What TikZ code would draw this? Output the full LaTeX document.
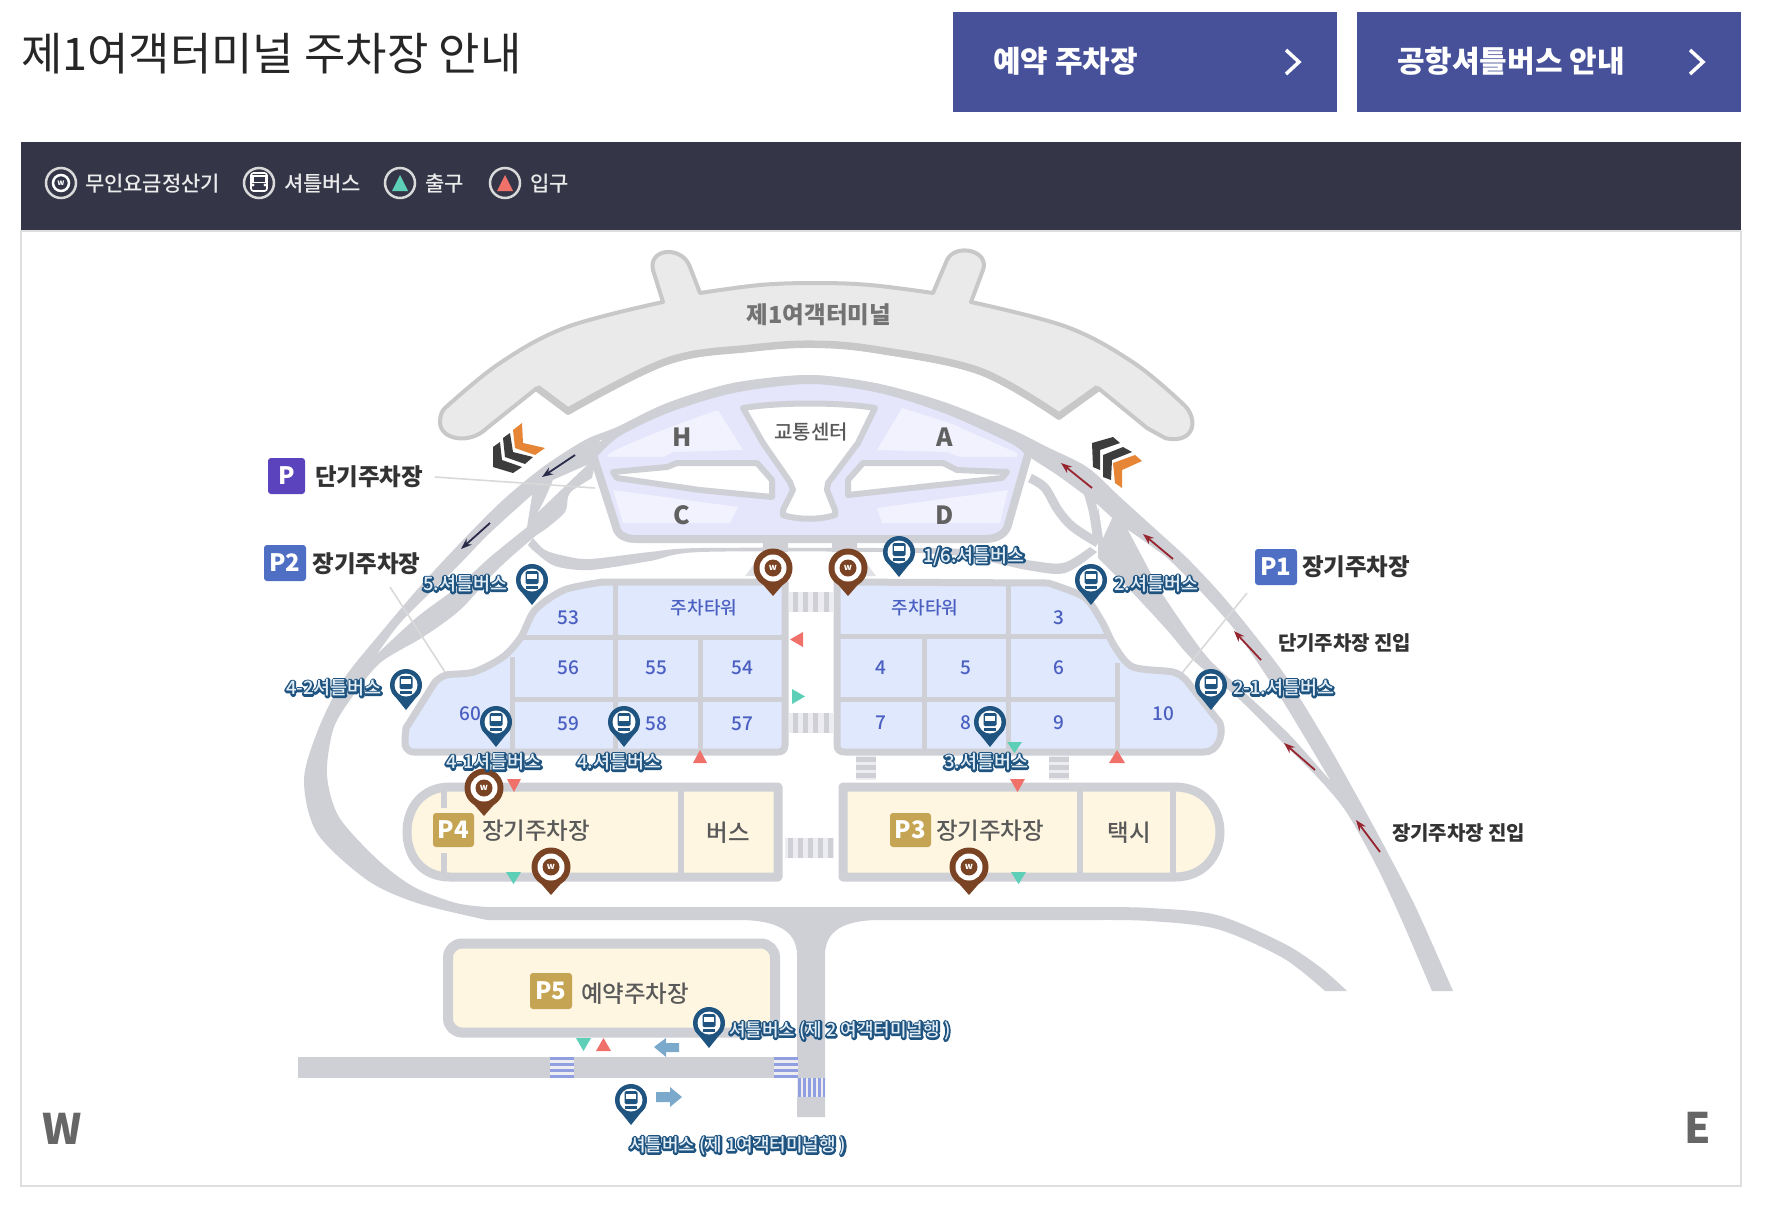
\documentclass[tikz,border=0pt]{standalone}
\usepackage{fontspec}
\setmainfont{Noto Sans CJK KR}
\newfontfamily\medf{Noto Sans CJK KR Medium}
\usetikzlibrary{arrows.meta}
\definecolor{roadc}{HTML}{CFD0D6}
\definecolor{lav}{HTML}{E5E5FB}
\definecolor{lavl}{HTML}{F2F2FE}
\definecolor{blockc}{HTML}{DFE8FC}
\definecolor{yelc}{HTML}{FEF6E0}
\definecolor{navyc}{HTML}{1F5480}
\definecolor{brownc}{HTML}{7A4424}
\definecolor{redc}{HTML}{F0706A}
\definecolor{greenc}{HTML}{5CCFB6}
\definecolor{btnc}{HTML}{46519A}
\definecolor{bandc}{HTML}{343648}
\definecolor{numc}{HTML}{4A5FC1}
\definecolor{goldc}{HTML}{C5A553}
\definecolor{arrd}{HTML}{2A2A4A}
\definecolor{arrr}{HTML}{97252F}
\definecolor{termc}{HTML}{EAEAEA}
\definecolor{terms}{HTML}{C8C8C8}
\definecolor{oranc}{HTML}{E68535}
\definecolor{chevd}{HTML}{3C3C3C}
\definecolor{sblue}{HTML}{7BA9CC}
\definecolor{cwblue}{HTML}{8F9FE0}
\definecolor{cwbg}{HTML}{EDEDF1}
\definecolor{pb}{HTML}{4F6FC4}
\definecolor{pv}{HTML}{5B43BE}
\definecolor{halotxt}{HTML}{E4EEF7}
\newcommand{\fsz}[1]{\fontsize{#1}{#1}\selectfont}
\tikzset{
  lab/.style={inner sep=0pt,outer sep=0pt},
  num/.style={lab,yshift=-1pt,text=numc,font=\medf\fsz{19}},
  blab/.style={lab,yshift=-1pt,text=numc,font=\medf\fsz{18}},
  dark/.style={lab,yshift=-1.5pt,text=black!80,font=\bfseries\fsz{23.5}},
  grayt/.style={lab,yshift=-1.5pt,text=black!65,font=\medf\fsz{23.5}},
  leg/.style={lab,yshift=-1pt,text=white!92!black,font=\medf\fsz{21},anchor=west},
  badge/.style={rounded corners=3pt},
  road/.style={fill=roadc},
  gap/.style={fill=white},
  badget/.style={lab,text=white,font=\bfseries\fsz{24}},
  arrD/.style={draw=arrd,line width=1.8pt,-{Stealth[length=11pt,width=8pt]}},
  arrR/.style={draw=arrr,line width=1.8pt,-{Stealth[length=11pt,width=8pt]}},
  leader/.style={draw=black!15,line width=1.6pt},
  bl/.style={lab,anchor=west,text=halotxt,font=\medf\fsz{18.5}},
}
\newcommand{\buslab}[1]{\rlap{\special{pdf:code 0.12 0.33 0.50 RG 1 Tr 3.8 w 1 j}#1\special{pdf:code 0 Tr 1 w 0 j}}#1}
\newcommand{\busicon}{%
  \fill[navyc,rounded corners=1.5pt] (-6.5,-9) rectangle (6.5,4);
  \fill[white] (-5,-6.5) rectangle (5,-1.5);
  \fill[navyc] (-6,5.5) rectangle (6,8.5);
}
\newcommand{\buspin}[2]{\begin{scope}[shift={(#1,#2)}]
  \fill[navyc] (-14.5,7) -- (0,25) -- (14.5,7) -- cycle;
  \fill[navyc] (0,0) circle (16);
  \fill[white] (0,0) circle (11.5);
  \busicon
\end{scope}}
\newcommand{\wpin}[3]{\begin{scope}[shift={(#2,#3)}]
  \fill[brownc] (-17.5,8) -- (0,28) -- (17.5,8) -- cycle;
  \fill[brownc] (0,0) circle (19.5);
  \fill[white] (0,0) circle (13.5);
  \fill[brownc] (0,0) circle (8.5);
  \node[lab,text=white,font=\bfseries\fsz{9}] (#1) at (0,0) {w};
\end{scope}}
\begin{document}
\begin{tikzpicture}[x=1pt,y=-1pt]
\useasboundingbox (0,0) rectangle (1770,1216);
\fill[white] (0,0) rectangle (1770,1216);
% title and buttons
\node[lab,anchor=west,text=black!85,font=\fsz{45}] (title) at (21,54) {제1여객터미널 주차장 안내};
\fill[btnc] (953,12) rectangle (1337,112);
\fill[btnc] (1357,12) rectangle (1741,112);
\node[lab,anchor=west,text=white,font=\bfseries\fsz{30}] (b1) at (993,61) {예약 주차장};
\node[lab,anchor=west,text=white,font=\bfseries\fsz{30}] (b2) at (1397,61) {공항셔틀버스 안내};
\draw[white,line width=3.5pt] (1286,50) -- (1299,62) -- (1286,74);
\draw[white,line width=3.5pt] (1690,50) -- (1703,62) -- (1690,74);
% panel
\draw[black!13,line width=1.5pt] (21,231) rectangle (1741,1186);
\fill[bandc] (21,142) rectangle (1741,230);
% legend
\draw[white!85!black,line width=2.5pt,fill=bandc] (61,183) circle (15);
\draw[white,line width=2.5pt] (61,183) circle (8);
\node[lab,text=white,font=\bfseries\fsz{8}] (lw) at (61,183) {w};
\node[leg] (l1) at (85,183) {무인요금정산기};
\draw[white!85!black,line width=2.5pt,fill=bandc] (259,183) circle (15);
\draw[white,line width=1.6pt,rounded corners=2.5pt] (251,173) rectangle (267,191);
\fill[white] (252,175) rectangle (266,183);
\fill[bandc] (253.5,177) rectangle (264.5,182);
\fill[white] (253,185) circle (1.6) (265,185) circle (1.6);
\node[leg] (l2) at (284,183) {셔틀버스};
\draw[white!85!black,line width=2.5pt,fill=bandc] (400,183) circle (15);
\fill[greenc] (392,191) -- (400,175) -- (408,191) -- cycle;
\node[leg] (l3) at (425,183) {출구};
\draw[white!85!black,line width=2.5pt,fill=bandc] (505,183) circle (15);
\fill[redc] (497,191) -- (505,175) -- (513,191) -- cycle;
\node[leg] (l4) at (530,183) {입구};
% terminal building
\draw[fill=termc,draw=terms,line width=4pt,line join=round]
  plot[smooth,tension=.6] coordinates {(445,408)(500,363)(567,327)(663,302)} -- (653,270)
  .. controls (648,248) and (682,245) .. (690,267) -- (700,293)
  -- plot[smooth,tension=.6] coordinates {(700,293)(760,285)(815,283)(870,285)(933,293)} -- (947,260)
  .. controls (955,243) and (990,250) .. (983,270) -- (971,302)
  -- plot[smooth,tension=.6] coordinates {(971,302)(1067,327)(1134,363)(1182,403)}
  .. controls (1200,418) and (1195,445) .. (1165,438) -- (1147,428) -- (1098,388) -- (1059,418)
  -- plot[smooth,tension=.6] coordinates {(1059,418)(980,373)(880,352)(815,346)(750,350)(667,363)(568,413)}
  -- (537,388) -- (487,428) .. controls (470,445) and (440,440) .. (440,422)
  .. controls (440,415) and (442,411) .. (445,408) -- cycle;
\draw[terms,line width=7pt,line join=round]
  (1098,388) -- (1059,416) -- plot[smooth,tension=.6] coordinates {(1059,416)(980,371)(880,350)(815,344)(750,348)(667,361)(568,411)} -- (537,388);
\node[lab,text=black!55,font=\bfseries\fsz{23.5}] (tname) at (819,315) {제1여객터미널};
% left road system
\fill[road]
  plot[smooth,tension=.5] coordinates {(880,384)(810,375)(733,383)(667,403)(617,427)(585,440)(543,467)(503,500)(463,540)(423,583)(383,630)(343,680)(318,730)(304,780)(317,833)(367,880)(417,903)(487,920)}
  -- (739,920) .. controls (775,920) and (797,930) .. (797,955) -- (797,1117) -- (825,1117) -- (825,955)
  .. controls (825,930) and (845,920) .. (880,920) -- (1100,920)
  -- plot[smooth,tension=.5] coordinates {(1100,920)(1150,921)(1217,929)(1283,958)(1325,991)}
  -- (1347,991) -- plot[smooth,tension=.5] coordinates {(1347,991)(1320,967)(1283,943)(1217,915)(1150,908)(1100,907)}
  -- (487,907) -- plot[smooth,tension=.5] coordinates {(487,907)(456,903)(414,887)(378,860)(339,817)(327,775)(333,730)(350,700)(380,663)(423,637)(460,610)(497,570)(533,538)(547,528)(565,512)(568,497)(573,490)(592,478)}
  -- (600,440) -- plot[smooth,tension=.5] coordinates {(617,438)(667,415)(733,395)(810,385)(880,396)} -- cycle;
\fill[gap] (378,653) -- plot[smooth,tension=.5] coordinates {(378,653)(403,620)(457,567)(490,533)(532,495)} -- (527,527)
  -- plot[smooth,tension=.5] coordinates {(527,527)(490,557)(457,587)(417,617)(378,653)} -- cycle;
\fill[gap] (587,465) -- (553,480) .. controls (548,492) and (544,502) .. (538,512) -- cycle;
% right road system
\fill[road]
  plot[smooth,tension=.5] coordinates {(733,383)(810,375)(880,384)(947,403)(1013,430)(1047,447)(1087,467)(1120,497)(1153,527)(1187,558)(1220,593)(1253,633)(1287,678)(1327,743)(1363,807)(1390,857)(1417,910)(1453,991)}
  -- (1432,991) -- plot[smooth,tension=.5] coordinates {(1432,991)(1403,923)(1377,867)(1347,813)(1320,780)(1283,743)(1240,700)(1193,660)(1167,630)(1130,590)(1098,558)}
  -- (1098,505) -- plot[smooth,tension=.5] coordinates {(1098,505)(1060,477)(1037,462)(1013,447)(947,417)(880,396)(810,385)(733,395)} -- cycle;
\fill[gap] (1098,505) -- (1112,518) -- (1103,538) -- cycle;
\fill[gap] (1128,530) -- plot[smooth,tension=.4] coordinates {(1128,530)(1167,558)(1202,593)(1237,633)(1282,700)(1330,780)}
  -- plot[smooth,tension=.4] coordinates {(1330,780)(1290,735)(1253,700)(1210,660)(1187,630)(1160,590)(1145,562)(1128,530)} -- cycle;
\draw[roadc,line width=9pt,line join=round] plot[smooth,tension=.6] coordinates {(1030,478)(1045,488)(1058,510)(1073,527)(1098,543)};
\draw[roadc,line width=9pt] plot[smooth,tension=.6] coordinates {(1085,483)(1093,510)(1098,542)};
% road under the forecourt
\fill[road]
  plot[smooth,tension=.5] coordinates {(533,538)(545,550)(565,556)(590,559)(650,552)(700,548)(880,548)(960,549)(1027,560)(1063,563)(1090,547)}
  -- plot[smooth,tension=.5] coordinates {(1097,552)(1065,573)(1027,570)(960,556)(880,552)(700,552)(650,561)(590,570)(555,566)(535,552)(528,545)} -- cycle;
\fill[road] (763,543) rectangle (788,552) (832,543) rectangle (857,552);
\fill[roadc!60!white] (745,576) -- (757,560) -- (757,576) -- cycle (876,576) -- (864,560) -- (864,576) -- cycle;
% forecourt
\draw[fill=lav,draw=roadc,line width=8pt,line join=round]
  (593,455) -- (617,530) .. controls (619,535) and (626,539) .. (636,539) -- (985,539)
  .. controls (998,539) and (1006,533) .. (1008,525) -- (1028,455)
  -- plot[smooth,tension=.5] coordinates {(1028,452)(1013,440)(947,410)(880,389)(810,380)(733,389)(667,409)(617,433)(593,455)} -- cycle;
\fill[lavl] (607,457) .. controls (603,453) and (660,430) .. (718,410) -- (743,450) -- (673,452) -- (663,457) -- cycle;
\fill[lavl] (613,490) -- (738,507) -- (730,523) -- (623,523) -- cycle;
\fill[lavl] (902,408) -- (950,423) -- (1017,453) -- (1017,457) -- (960,457) -- (947,452) -- (877,450) -- cycle;
\fill[lavl] (877,508) -- (1008,490) -- (1000,523) -- (882,523) -- cycle;
\draw[fill=white,draw=roadc,line width=6pt,line join=round]
  (743,408) .. controls (780,402) and (840,402) .. (875,408) -- (858,443) -- (828,483) -- (827,490) -- (835,510) -- (835,515)
  .. controls (820,520) and (798,520) .. (783,515) -- (783,510) -- (793,490) -- (790,482) -- (763,443) -- cycle;
\draw[fill=white,draw=roadc,line width=6pt,line join=round]
  (613,472) -- (667,467) -- (677,463) -- (757,463) -- (772,480) -- (772,497) -- (700,490) -- (617,478) -- cycle;
\draw[fill=white,draw=roadc,line width=6pt,line join=round]
  (848,490) -- (848,480) -- (863,463) -- (943,463) -- (957,470) -- (1007,472) -- (1002,478) -- (848,495) -- cycle;
\node[lab,text=black!62,font=\bfseries\fsz{25}] (H) at (682,437) {H};
\node[lab,text=black!62,font=\bfseries\fsz{25}] (C) at (682,515) {C};
\node[lab,text=black!62,font=\bfseries\fsz{25}] (A) at (945,437) {A};
\node[lab,text=black!62,font=\bfseries\fsz{25}] (D) at (945,515) {D};
\node[lab,text=black!65,font=\medf\fsz{20}] (tc) at (811,432) {교통센터};
% chevrons
\fill[oranc] (522,423) -- (513,430) -- (515,448) -- (535,455) -- (545,448) -- (523,443) -- cycle;
\fill[chevd] (510,433) -- (503,438) -- (505,457) -- (525,464) -- (533,457) -- (513,452) -- cycle;
\fill[chevd] (500,442) -- (493,447) -- (493,467) -- (513,473) -- (522,467) -- (502,460) -- cycle;
\fill[chevd] (1113,437) -- (1092,443) -- (1093,467) -- (1100,470) -- (1100,450) -- (1120,443) -- cycle;
\fill[chevd] (1123,447) -- (1103,455) -- (1103,477) -- (1111,480) -- (1112,460) -- (1132,452) -- cycle;
\fill[oranc] (1135,455) -- (1113,463) -- (1115,483) -- (1122,488) -- (1122,470) -- (1142,461) -- cycle;
% arrows
\draw[arrD] (575,455) -- (542,477);
\draw[arrD] (490,523) -- (461,549);
\draw[arrR] (1092,488) -- (1061,463);
\draw[arrR] (1173,559) -- (1143,534);
\draw[arrR] (1261,660) -- (1234,631);
\draw[arrR] (1315,770) -- (1284,743);
\draw[arrR] (1380,852) -- (1356,820);
% leaders
\draw[leader] (435,477) -- (595,488);
\draw[leader] (390,587) -- (445,672);
\draw[leader] (1247,593) -- (1182,673);
% left block
\draw[fill=blockc,draw=roadc,line width=7pt,line join=round]
  (785,582) -- (785,745) .. controls (785,750) and (782,752) .. (778,752) -- (414,752)
  .. controls (407,752) and (404,746) .. (405,740) .. controls (405,734) and (406,731) .. (406,728)
  -- plot[smooth,tension=.5] coordinates {(435,682)(446,675)(474,672)(503,657)(521,637)(535,610)(564,590)(603,582)} -- cycle;
\draw[roadc,line width=5pt] (615,582) -- (615,752) (521,637) -- (785,637) (512,699) -- (785,699) (512,657) -- (512,752) (700,637) -- (700,752);
% right block
\draw[fill=blockc,draw=roadc,line width=7pt,line join=round]
  (837,582) -- (1048,583) -- plot[smooth,tension=.5] coordinates {(1048,583)(1084,597)(1101,620)(1115,647)(1133,667)(1173,672)(1186,680)}
  -- (1220,723) .. controls (1224,735) and (1218,752) .. (1204,752) -- (845,752) .. controls (840,752) and (837,750) .. (837,745) -- cycle;
\draw[roadc,line width=5pt] (837,636) -- (1108,636) (837,699) -- (1117,699) (924,636) -- (924,752) (1008,582) -- (1008,752) (1117,663) -- (1117,752);
% crosswalks
\foreach \yy in {592,713}{
  \fill[cwbg] (789,\yy) rectangle (833,\yy+20);
  \foreach \xx in {793,803,813,824}{\fill[roadc] (\xx,\yy) rectangle (\xx+5,\yy+20);}
}
\fill[cwbg] (785,838) rectangle (834,858);
\foreach \xx in {788,798,808,818,828}{\fill[roadc] (\xx,838) rectangle (\xx+5,858);}
\foreach \xx in {856,1049}{
  \fill[cwbg] (\xx,756) rectangle (\xx+20,780);
  \foreach \yy in {757,765,773}{\fill[roadc] (\xx,\yy) rectangle (\xx+20,\yy+5);}
}
% P4 P3
\draw[fill=yelc,draw=roadc,line width=9pt,line join=round]
  (778,787) -- (450,787) .. controls (422,787) and (407,808) .. (407,832) .. controls (407,856) and (422,877) .. (450,877) -- (778,877) -- cycle;
\draw[roadc,line width=6pt] (681,787) -- (681,877) (444,787) -- (444,808) (444,853) -- (444,877);
\draw[fill=yelc,draw=roadc,line width=9pt,line join=round]
  (843,787) -- (1175,787) .. controls (1203,787) and (1220,808) .. (1220,832) .. controls (1220,856) and (1203,877) .. (1175,877) -- (843,877) -- cycle;
\draw[roadc,line width=6pt] (1080,787) -- (1080,877) (1173,787) -- (1173,877);
\fill[goldc,badge] (433,813) rectangle (474,847);
\node[badget] (p4) at (453.5,830) {P4};
\node[grayt,anchor=west] (p4t) at (482,829) {장기주차장};
\node[grayt] (bus) at (728,831) {버스};
\fill[goldc,badge] (890,813) rectangle (931,847);
\node[badget] (p3) at (910.5,830) {P3};
\node[grayt,anchor=west] (p3t) at (936,829) {장기주차장};
\node[grayt] (taxi) at (1129,831) {택시};
% P5
\draw[fill=yelc,draw=roadc,line width=10pt,rounded corners=14pt] (448,943.5) rectangle (775,1032.5);
\fill[goldc,badge] (530,973) rectangle (572,1009);
\node[badget] (p5) at (551,991) {P5};
\node[grayt,anchor=west] (p5t) at (581,992) {예약주차장};
% bottom road
\fill[road] (298,1057) rectangle (797,1078);
\foreach \xx in {549.5,773.5}{
  \fill[cwbg] (\xx,1057) rectangle (\xx+24,1078);
  \foreach \yy in {1057,1063,1069,1075}{\fill[cwblue] (\xx,\yy) rectangle (\xx+24,\yy+3);}
}
\fill[cwbg] (797,1078) rectangle (825,1097);
\foreach \xx in {798,803,808,813,818,822.5}{\fill[cwblue] (\xx,1078) rectangle (\xx+2.5,1097);}
% block arrows
\fill[sblue] (654,1047) -- (666,1038) -- (666,1043) -- (679,1043) -- (679,1052) -- (666,1052) -- (666,1057) -- cycle;
\fill[sblue] (682,1097) -- (670,1087) -- (670,1092) -- (656,1092) -- (656,1102) -- (670,1102) -- (670,1107) -- cycle;
% triangles
\fill[redc] (693,763) -- (700,750) -- (707,763) -- cycle;
\fill[redc] (507,779) -- (521,779) -- (514,792) -- cycle;
\fill[greenc] (506,872) -- (521,872) -- (513.5,884) -- cycle;
\fill[redc] (803,632) -- (803,647) -- (790,639.5) -- cycle;
\fill[greenc] (792,689) -- (792,704) -- (805,696.5) -- cycle;
\fill[greenc] (1007,742) -- (1022,742) -- (1014.5,753) -- cycle;
\fill[redc] (1010,779) -- (1025,779) -- (1017.5,792) -- cycle;
\fill[redc] (1109,763) -- (1117,750) -- (1125,763) -- cycle;
\fill[greenc] (1011,872) -- (1026,872) -- (1018.5,884) -- cycle;
\fill[greenc] (576,1038) -- (591,1038) -- (583.5,1051) -- cycle;
\fill[redc] (596,1051) -- (603.5,1038) -- (611,1051) -- cycle;
% numbers
\node[num] (n53) at (568,617) {53};
\node[blab] (tw1) at (704,607) {주차타워};
\node[num] (n56) at (568,667) {56};
\node[num] (n55) at (656,667) {55};
\node[num] (n54) at (742,667) {54};
\node[num] (n59) at (568,723) {59};
\node[num] (n58) at (656,723) {58};
\node[num] (n57) at (742,723) {57};
\node[num] (n60) at (470,713) {60};
\node[blab] (tw2) at (925,607) {주차타워};
\node[num] (n3) at (1059,617) {3};
\node[num] (n4) at (881,667) {4};
\node[num] (n5) at (966,667) {5};
\node[num] (n6) at (1059,667) {6};
\node[num] (n7) at (881,722) {7};
\node[num] (n8) at (966,722) {8};
\node[num] (n9) at (1059,722) {9};
\node[num] (n10) at (1163,713) {10};
% pins
\wpin{wa}{773}{568}
\wpin{wb}{848}{568}
\wpin{wc}{484}{788}
\wpin{wd}{551}{867}
\wpin{we}{969}{867}
\buspin{532}{580}
\buspin{899}{552}
\buspin{1091}{580}
\buspin{406}{685}
\buspin{496}{722}
\buspin{624}{722}
\buspin{990}{722}
\buspin{1211}{685}
\buspin{709}{1023}
\buspin{631}{1100}
% shuttle labels
\node[bl] (s5) at (423,584) {\buslab{5.셔틀버스}};
\node[bl] (s16) at (923,556) {\buslab{1/6.셔틀버스}};
\node[bl] (s2) at (1114,584) {\buslab{2.셔틀버스}};
\node[bl] (s42) at (286,688) {\buslab{4-2셔틀버스}};
\node[bl] (s21) at (1233,688) {\buslab{2-1.셔틀버스}};
\node[bl] (s41) at (446,762) {\buslab{4-1셔틀버스}};
\node[bl] (s4) at (577,762) {\buslab{4.셔틀버스}};
\node[bl] (s3) at (944,762) {\buslab{3.셔틀버스}};
\node[bl,font=\medf\fsz{18}] (sb2) at (729,1031) {\buslab{셔틀버스 (제 2 여객터미널행 )}};
\node[bl,font=\medf\fsz{18}] (sb1) at (629,1146) {\buslab{셔틀버스 (제 1여객터미널행 )}};
% P badges
\fill[pv,badge] (268,458) rectangle (305,494);
\node[badget] (ps) at (286.5,476) {P};
\node[dark,anchor=west] (pst) at (315,475) {단기주차장};
\fill[pb,badge] (264,545) rectangle (306,581);
\node[badget] (p2) at (285,563) {P2};
\node[dark,anchor=west] (p2t) at (312.5,562) {장기주차장};
\fill[pb,badge] (1255,549) rectangle (1297,585);
\node[badget] (p1) at (1276,567) {P1};
\node[dark,anchor=west] (p1t) at (1302,565) {장기주차장};
\node[lab,yshift=-1pt,anchor=west,text=black!80,font=\bfseries\fsz{20}] (e1) at (1278,642) {단기주차장 진입};
\node[lab,yshift=-1pt,anchor=west,text=black!80,font=\bfseries\fsz{20}] (e2) at (1392,832) {장기주차장 진입};
\node[lab,text=black!60,font=\bfseries\fsz{42}] (W) at (62,1129) {W};
\node[lab,text=black!60,font=\bfseries\fsz{42}] (E) at (1698,1128) {E};
\end{tikzpicture}
\end{document}
